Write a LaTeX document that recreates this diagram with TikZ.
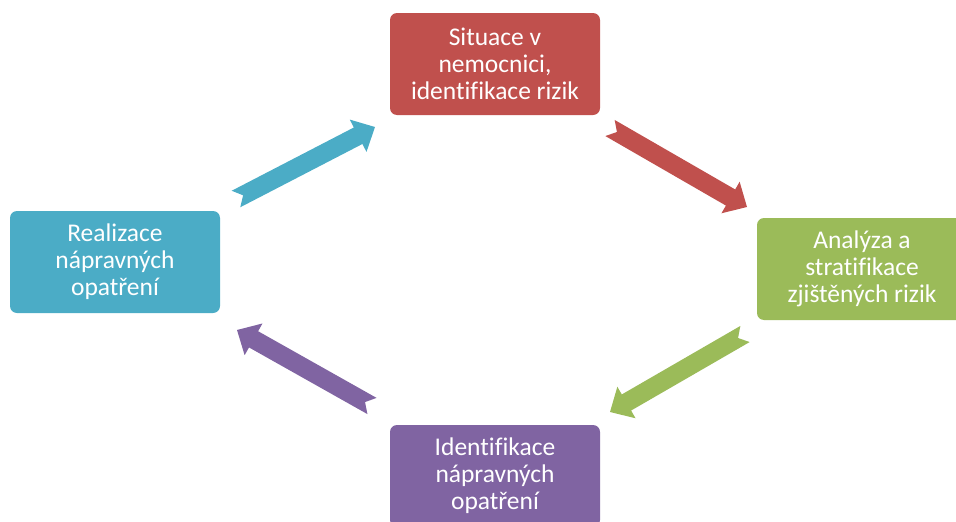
\documentclass[tikz,border=0pt]{standalone}
\usepackage{fontspec}
\setmainfont{Carlito}[Ligatures=NoCommon]
\usetikzlibrary{calc}
\definecolor{cred}{HTML}{C0504D}
\definecolor{cgreen}{HTML}{9BBB59}
\definecolor{cpurple}{HTML}{8064A2}
\definecolor{cblue}{HTML}{4BACC6}
\newcommand\blockarrow[3]{%
  \fill[#3] ($(#1)!9.3pt!90:(#2)$)
    -- ($(#2)!19pt!(#1)!9.3pt!-90:(#1)$)
    -- ($(#2)!19pt!(#1)!18.2pt!-90:(#1)$)
    -- (#2)
    -- ($(#2)!19pt!(#1)!18.2pt!90:(#1)$)
    -- ($(#2)!19pt!(#1)!9.3pt!90:(#1)$)
    -- ($(#1)!9.3pt!-90:(#2)$)
    -- ($(#1)!8pt!(#2)$)
    -- cycle;}
\begin{document}
\begin{tikzpicture}[x=1pt,y=-1pt,
  box/.style={rounded corners=7pt, text=white, align=center,
    font=\fontsize{25.5}{27}\selectfont, minimum width=210pt,
    minimum height=102pt, inner sep=0pt}]
\useasboundingbox (0,0) rectangle (956,522);
\clip (0,0) rectangle (956,522);
\node[box, fill=cred] (sit) at (495,64) {Situace v\\nemocnici,\\identifikace rizik};
\node[box, fill=cgreen] (ana) at (862,269) {Analýza a\\stratifikace\\zjištěných rizik};
\node[box, fill=cpurple] (ide) at (495,476) {Identifikace\\nápravných\\opatření};
\node[box, fill=cblue] (rea) at (115,262) {Realizace\\nápravných\\opatření};
\coordinate (a1t) at (236,199); \coordinate (a1h) at (375,127);
\coordinate (a2t) at (610,128); \coordinate (a2h) at (747,207);
\coordinate (a3t) at (745,334); \coordinate (a3h) at (610,412);
\coordinate (a4t) at (372,406); \coordinate (a4h) at (237,330);
\blockarrow{a1t}{a1h}{cblue}
\blockarrow{a2t}{a2h}{cred}
\blockarrow{a3t}{a3h}{cgreen}
\blockarrow{a4t}{a4h}{cpurple}
\end{tikzpicture}
\end{document}
